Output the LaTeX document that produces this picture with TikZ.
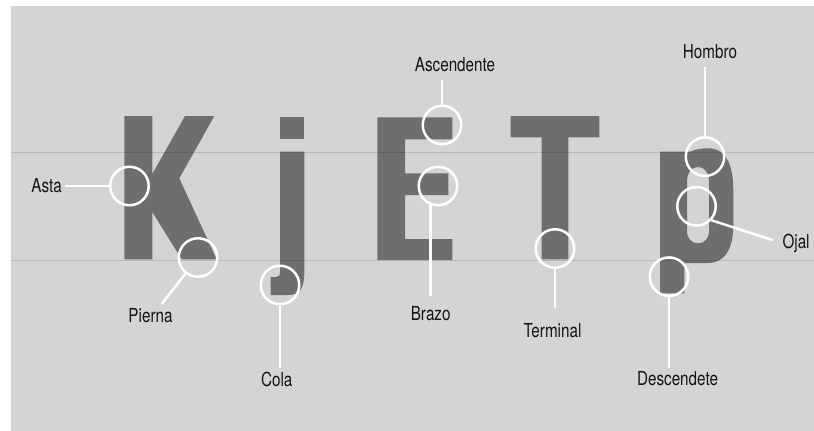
\documentclass[tikz,border=0pt]{standalone}
\usepackage{fontspec}
\setmainfont{TeX Gyre Heros}[FakeStretch=0.79]
\definecolor{bggray}{RGB}{212,212,212}
\definecolor{lettergray}{RGB}{110,110,110}
\definecolor{labelcol}{RGB}{20,20,20}
\begin{document}
\begin{tikzpicture}[x=1pt,y=-1pt,
  letter/.style={fill=lettergray},
  ring/.style={circle,draw=white,line width=2.5pt,minimum size=38.5pt,inner sep=0pt},
  conn/.style={draw=white,line width=2.5pt},
  lbl/.style={inner sep=0pt,text=labelcol,font=\fontsize{19.3}{21}\selectfont,anchor=base},
  guide/.style={draw=black,opacity=0.12,line width=1pt}]
\useasboundingbox (0,0) rectangle (814,431);
\fill[white] (0,0) rectangle (814,431);
\fill[bggray] (11,6) rectangle (814,431);
% K
\fill[letter] (124.3,116) -- (152.3,116) -- (152.3,174) -- (185,116) -- (214.3,116) -- (179.3,178.3)
  -- (216.7,259.3) -- (181.7,259.3) -- (152.3,212) -- (152.3,259.3) -- (124.3,259.3) -- cycle;
% j
\fill[letter] (280,116.7) rectangle (304.3,139.3);
\fill[letter] (280,151.7) -- (304.3,151.7) -- (304.3,273) .. controls (304.3,289) and (299,295) .. (288,295)
  -- (270.7,295) -- (270.7,277) -- (276,277) .. controls (279,277) and (280,275.5) .. (280,272) -- cycle;
% E
\fill[letter] (377.3,117.3) -- (452.3,117.3) -- (452.3,139.3) -- (405,139.3) -- (405,173.3) -- (448.3,173.3)
  -- (448.3,195) -- (405,195) -- (405,239) -- (452.3,239) -- (452.3,260) -- (377.3,260) -- cycle;
% T
\fill[letter] (510.7,116) -- (599.3,116) -- (599.3,137.3) -- (568.3,137.3) -- (568.3,259.3) -- (541.7,259.3)
  -- (541.7,137.3) -- (510.7,137.3) -- cycle;
% p
\fill[letter,even odd rule] (660,151.7) -- (690,151.7) .. controls (696,149) and (702,148.3) .. (708,148.3)
  .. controls (726,148.3) and (733.3,165) .. (733.3,190) -- (733.3,225)
  .. controls (733.3,250) and (724,263) .. (708,263) -- (684.3,263) -- (684.3,293.3) -- (660,293.3) -- cycle
  (698,167) .. controls (704,167) and (709,172) .. (709,182) -- (709,231)
  .. controls (709,239) and (704,243.3) .. (698,243.3) .. controls (692,243.3) and (687,239) .. (687,231)
  -- (687,182) .. controls (687,172) and (692,167) .. (698,167) -- cycle;
% guide lines
\draw[guide] (11,152.7) -- (814,152.7);
\draw[guide] (11,260) -- (814,260);
% rings
\node[ring] (asta) at (129.5,186) {};
\node[ring] (pierna) at (198,257.5) {};
\node[ring] (cola) at (280,285) {};
\node[ring] (ascend) at (442,125) {};
\node[ring] (brazo) at (438,186) {};
\node[ring] (terminal) at (555,248.5) {};
\node[ring] (hombro) at (705,156.7) {};
\node[ring] (ojal) at (696.5,206.3) {};
\node[ring] (descend) at (669,276.7) {};
% labels
\node[lbl] (astaL) at (46.7,192) {Asta};
\node[lbl] (piernaL) at (150.5,322.7) {Pierna};
\node[lbl] (colaL) at (276.7,386) {Cola};
\node[lbl] (ascL) at (455,71.7) {Ascendente};
\node[lbl] (brazoL) at (430.7,320) {Brazo};
\node[lbl] (termL) at (552.5,337.3) {Terminal};
\node[lbl] (hombroL) at (710,58.3) {Hombro};
\node[lbl,anchor=base west] (ojalL) at (782.3,248.3) {Ojal};
\node[lbl] (descL) at (677.5,385.7) {Descendete};
\coordinate (piernaEnd) at (161.7,304);
% connectors
\draw[conn,shorten >=3pt] (asta.west) -- (asta.west -| astaL.east);
\draw[conn] (pierna.232) -- (piernaEnd);
\draw[conn,shorten >=3pt] (cola.south) -- (cola.south |- colaL.north);
\draw[conn,shorten >=8pt] (ascend.north) -- (ascend.north |- ascL.south);
\draw[conn,shorten >=10pt] (brazo.-111) -- (brazo.-111 |- brazoL.north);
\draw[conn,shorten >=15.5pt] (terminal.south) -- (terminal.south |- termL.north);
\draw[conn,shorten >=8pt] (hombro.north) -- (hombro.north |- hombroL.south);
\draw[conn,shorten >=10pt] (ojal.-43) -- (ojalL.west);
\draw[conn,shorten >=3.5pt] (descend.south) -- (descend.south |- descL.north);
\end{tikzpicture}
\end{document}
